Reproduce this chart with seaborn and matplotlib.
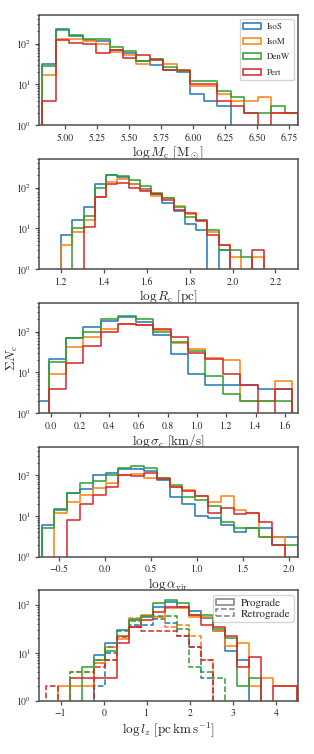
import numpy as np
import matplotlib
matplotlib.use("Agg")
import matplotlib.pyplot as plt
import seaborn as sns
from matplotlib.patches import Patch

names = ["IsoS", "IsoM", "DenW", "Pert"]

# ---- log M_c ----
m_edges = np.linspace(4.823, 6.818, 20)
m_isos = [32, 224, 155, 125, 116, 70, 60, 38, 30, 22, 20, 6, 4, 3, 0, 0, 0, 0, 0]
m_isom = [17, 130, 130, 113, 100, 63, 52, 31, 43, 32, 21, 9, 9, 6, 4, 4, 5, 2, 2]
m_denw = [29, 210, 165, 127, 127, 83, 66, 38, 43, 27, 21, 12, 12, 7, 5, 2, 2, 3, 2]
m_pert = [4, 125, 104, 100, 60, 70, 45, 54, 40, 22, 23, 10, 10, 4, 3, 2, 0, 2, 2]

# ---- log R_c ----
r_edges = np.linspace(1.1475, 2.25, 22)
r_isos = [0, 7, 16, 34, 120, 205, 180, 122, 91, 68, 41, 26, 13, 9, 0, 3, 0, 0, 0, 0, 0]
r_isom = [0, 4, 8, 16, 60, 137, 160, 122, 87, 63, 57, 36, 22, 16, 8, 4, 2, 0, 2, 0, 0]
r_denw = [0, 0, 10, 20, 100, 200, 190, 154, 112, 73, 57, 34, 19, 16, 9, 3, 3, 2, 0, 0, 0]
r_pert = [0, 0, 0, 11, 58, 120, 127, 95, 81, 68, 50, 28, 24, 15, 7, 4, 0, 0, 3, 0, 0]

# ---- log sigma_c ----
s_edges = np.linspace(-0.133, 1.652, 16)
s_isos = [2, 21, 69, 127, 185, 225, 170, 80, 28, 9, 5, 5, 5, 4, 4]
s_isom = [0, 9, 43, 72, 116, 153, 145, 110, 52, 38, 23, 20, 2, 2, 6]
s_denw = [0, 18, 71, 100, 200, 240, 200, 100, 57, 34, 8, 3, 2, 2, 2]
s_pert = [0, 4, 17, 44, 96, 150, 145, 114, 73, 29, 21, 9, 5, 0, 4]

# ---- log alpha_vir ----
a_edges = np.linspace(-0.685, 2.094, 21)
a_isos = [6, 15, 37, 47, 100, 116, 145, 140, 127, 75, 30, 20, 10, 9, 6, 4, 5, 5, 3, 3]
a_isom = [0, 12, 22, 32, 50, 66, 100, 110, 88, 85, 52, 43, 31, 22, 31, 14, 12, 3, 3, 0]
a_denw = [5, 14, 36, 63, 71, 104, 154, 169, 154, 86, 59, 30, 25, 18, 7, 5, 5, 3, 2, 2]
a_pert = [0, 0, 8, 20, 32, 52, 104, 95, 114, 83, 52, 41, 31, 12, 16, 11, 12, 7, 2, 0]

# ---- log l_z (prograde / retrograde) ----
l_edges = np.linspace(-1.349, 4.488, 22)
l_isos_pro = [0, 0, 0, 0, 9, 16, 30, 51, 55, 89, 117, 92, 75, 52, 28, 11, 7, 0, 0, 0, 0]
l_isom_pro = [0, 2, 2, 2, 6, 13, 19, 35, 62, 57, 86, 86, 57, 57, 28, 14, 16, 2, 3, 2, 2]
l_denw_pro = [0, 0, 0, 5, 7, 11, 22, 48, 59, 108, 127, 111, 62, 62, 32, 20, 2, 3, 0, 0, 0]
l_pert_pro = [0, 0, 3, 3, 3, 3, 16, 35, 48, 70, 89, 92, 62, 38, 35, 22, 5, 8, 0, 2, 2]
l_isos_ret = [0, 0, 0, 0, 2, 10, 22, 38, 38, 50, 41, 22, 13, 3, 0, 0, 0, 0, 0, 0, 0]
l_isom_ret = [0, 0, 4, 4, 6, 7, 22, 53, 59, 57, 35, 38, 22, 7, 0, 0, 0, 0, 0, 0, 0]
l_denw_ret = [0, 0, 4, 4, 7, 13, 29, 47, 59, 59, 59, 32, 5, 4, 3, 0, 0, 0, 0, 0, 0]
l_pert_ret = [2, 0, 0, 0, 5, 7, 21, 34, 28, 28, 28, 22, 13, 7, 0, 0, 0, 0, 0, 0, 0]

sns.set_style("ticks")
plt.rcParams["font.family"] = ["STIXGeneral", "DejaVu Serif"]
plt.rcParams["mathtext.fontset"] = "stix"
plt.rcParams["axes.edgecolor"] = "0.3"
plt.rcParams["axes.linewidth"] = 1.1

colors = sns.color_palette("tab10", 4)


def step_hist(ax, edges, counts, color, ls="-"):
    # pad with empty bins so the outline drops to the baseline at both ends
    w = edges[1] - edges[0]
    e = np.r_[edges[0] - w, edges, edges[-1] + w]
    c = np.r_[0, counts, 0]
    centers = 0.5 * (e[:-1] + e[1:])
    sns.histplot(x=centers, weights=c, bins=list(e), element="step", fill=False,
                 color=color, linewidth=1.1, linestyle=ls, ax=ax)


fig = plt.figure(figsize=(3.14, 7.54), dpi=100)
bottoms = [0.8338, 0.6428, 0.4519, 0.2613, 0.0707]
axes = [fig.add_axes([0.124, b, 0.825, 0.1463]) for b in bottoms]

panels = [
    (m_edges, [m_isos, m_isom, m_denw, m_pert], (4.797, 6.818),
     np.arange(5.0, 6.76, 0.25), "{:.2f}", r"$\log M_{\rm c}\ [{\rm M}_\odot]$"),
    (r_edges, [r_isos, r_isom, r_denw, r_pert], (1.096, 2.305),
     np.arange(1.2, 2.21, 0.2), "{:.1f}", r"$\log R_{\rm c}\ [{\rm pc}]$"),
    (s_edges, [s_isos, s_isom, s_denw, s_pert], (-0.08, 1.69),
     np.arange(0.0, 1.61, 0.2), "{:.1f}", r"$\log \sigma_{\rm c}\ [{\rm km/s}]$"),
    (a_edges, [a_isos, a_isom, a_denw, a_pert], (-0.714, 2.098),
     np.arange(-0.5, 2.01, 0.5), "{:.1f}", r"$\log \alpha_{\rm vir}$"),
]

for ax, (edges, series, xlim, ticks, fmt, label) in zip(axes[:4], panels):
    for counts, c in zip(series, colors):
        step_hist(ax, edges, counts, c)
    ax.set_yscale("log")
    ax.set_ylim(1, 500)
    ax.set_xlim(*xlim)
    ax.set_xticks(ticks)
    ax.set_xticklabels([fmt.format(t).replace("-", "\u2212") for t in ticks])
    ax.set_xlabel(label, fontsize=9.5, math_fontfamily="cm", labelpad=1.5)
    ax.set_ylabel("")

ax5 = axes[4]
pro = [l_isos_pro, l_isom_pro, l_denw_pro, l_pert_pro]
ret = [l_isos_ret, l_isom_ret, l_denw_ret, l_pert_ret]
for counts, c in zip(pro, colors):
    step_hist(ax5, l_edges, counts, c)
for counts, c in zip(ret, colors):
    step_hist(ax5, l_edges, counts, c, ls="--")
ax5.set_yscale("log")
ax5.set_ylim(1, 200)
ax5.set_xlim(-1.504, 4.51)
ax5.set_xticks(range(-1, 5))
ax5.set_xticklabels(["\u22121", "0", "1", "2", "3", "4"])
ax5.set_xlabel(r"$\log l_z\ [{\rm pc\,km\,s^{-1}}]$", fontsize=9.5,
               math_fontfamily="cm", labelpad=1.5)
ax5.set_ylabel("")

for ax in axes:
    ax.tick_params(labelsize=7, length=3, width=0.9, color="0.3", pad=2.5)
    ax.tick_params(which="minor", length=1.8, width=0.6)

axes[2].set_ylabel(r"$\Sigma N_{\rm c}$", fontsize=9.5, math_fontfamily="cm")
axes[2].yaxis.set_label_coords(-0.075, 0.5)

handles = [Patch(facecolor="none", edgecolor=c, linewidth=1.1) for c in colors]
axes[0].legend(handles, names, loc="upper right", fontsize=6.4,
               labelspacing=0.8, handlelength=2.0, handleheight=0.7,
               handletextpad=0.7, borderaxespad=0.45)

h2 = [Patch(facecolor="none", edgecolor="0.5", linewidth=1.1, linestyle="-"),
      Patch(facecolor="none", edgecolor="0.5", linewidth=1.1, linestyle="--")]
ax5.legend(h2, ["Prograde", "Retrograde"], loc="upper right", fontsize=8,
           labelspacing=0.1, handlelength=1.6, handleheight=0.55,
           handletextpad=0.6, borderpad=0.3, borderaxespad=0.4)

fig.savefig("out.png", dpi=100)
